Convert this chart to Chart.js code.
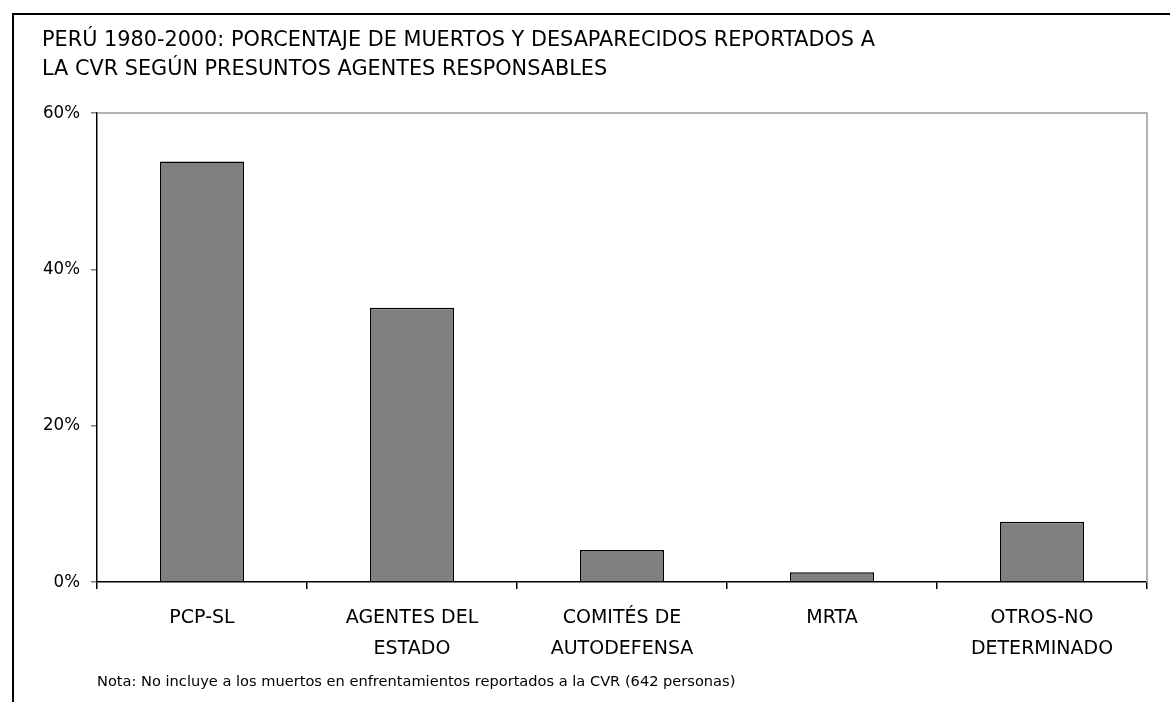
<!DOCTYPE html>
<html>
<head>
<meta charset="utf-8">
<script src="https://cdn.jsdelivr.net/npm/chart.js@4/dist/chart.umd.min.js"></script>
<style>
	body { margin: 0; background: #fff; }
	#wrap { width: 1170px; height: 702px; }
</style>
</head>
<body>
<div id="wrap"><canvas id="chart" width="1170" height="702"></canvas></div>
<script>
////////////
//// Data

let categories = [
	['PCP-SL'],
	['AGENTES DEL', 'ESTADO'],
	['COMITÉS DE', 'AUTODEFENSA'],
	['MRTA'],
	['OTROS-NO', 'DETERMINADO']
];
let percentages = [53.8, 35.1, 4.1, 1.25, 7.7];
let yTicks = [0, 20, 40, 60];

let titleLines = [
	'PERÚ 1980-2000: PORCENTAJE DE MUERTOS Y DESAPARECIDOS REPORTADOS A',
	'LA CVR SEGÚN PRESUNTOS AGENTES RESPONSABLES'
];
let note = 'Nota: No incluye a los muertos en enfrentamientos reportados a la CVR (642 personas)';

let FONT = "'DejaVu Sans', sans-serif";
let FONT_NARROW = "'DejaVu Sans Condensed', 'DejaVu Sans', sans-serif";

////////////
//// Plugins

// outer frame (only left and top edges visible) + grey top/right plot border
let framePlugin = {
	id: 'frame',
	beforeDraw(chart) {
		let c = chart.ctx;
		c.save();
		c.fillStyle = '#fff';
		c.fillRect(0, 0, chart.width, chart.height);
		c.strokeStyle = '#000';
		c.lineWidth = 2;
		c.beginPath();
		c.moveTo(13, chart.height);
		c.lineTo(13, 14);
		c.lineTo(chart.width, 14);
		c.stroke();
		c.restore();
	},
	afterDatasetsDraw(chart) {
		let a = chart.chartArea;
		let c = chart.ctx;
		c.save();
		c.strokeStyle = '#9a9a9a';
		c.lineWidth = 1.5;
		c.beginPath();
		c.moveTo(a.left, a.top);
		c.lineTo(a.right, a.top);
		c.lineTo(a.right, a.bottom);
		c.stroke();
		c.restore();
	}
};

////////////
//// Chart

var ctx = document.getElementById('chart').getContext('2d');
let chart = new Chart(ctx, {
	type: 'bar',
	data: {
		labels: categories,
		datasets: [{
			data: percentages,
			backgroundColor: '#808080',
			borderColor: '#000',
			borderWidth: 1.5,
			categoryPercentage: 0.4,
			barPercentage: 1
		}]
	},
	options: {
		responsive: false,
		animation: false,
		layout: { padding: { left: 42, right: 23, top: 0, bottom: 0 } },
		plugins: {
			legend: { display: false },
			tooltip: { enabled: false },
			title: {
				display: true,
				text: titleLines,
				align: 'start',
				color: '#000',
				font: { family: FONT, size: 20.8, weight: 'normal', lineHeight: '29px' },
				padding: { top: 26, bottom: 29 }
			}
		},
		scales: {
			x: {
				afterFit(scale) { scale.height = 120; },
				border: { color: '#000', width: 1.5 },
				grid: {
					offset: true,
					drawOnChartArea: false,
					drawTicks: true,
					tickLength: 7,
					color: '#000',
					lineWidth: 1.5
				},
				ticks: {
					maxRotation: 0,
					autoSkip: false,
					padding: 13.5,
					color: '#000',
					font: { family: FONT, size: 19, lineHeight: '31px' }
				},
				title: {
					display: true,
					text: note,
					align: 'start',
					color: '#000',
					font: { family: FONT, size: 14.6, lineHeight: 1.2 },
					padding: { top: 0, bottom: 11 }
				}
			},
			y: {
				min: 0,
				max: 60,
				afterFit(scale) { scale.width = 55; },
				afterBuildTicks(scale) {
					scale.ticks = yTicks.map(function (v) { return { value: v }; });
				},
				border: { color: '#000', width: 1.5 },
				grid: {
					drawOnChartArea: false,
					drawTicks: true,
					tickLength: 6,
					color: '#808080',
					lineWidth: 1.5
				},
				ticks: {
					padding: 11,
					color: '#000',
					font: { family: FONT_NARROW, size: 18.5 },
					callback: function (v) { return v + '%'; }
				}
			}
		}
	},
	plugins: [framePlugin]
});
</script>
</body>
</html>
